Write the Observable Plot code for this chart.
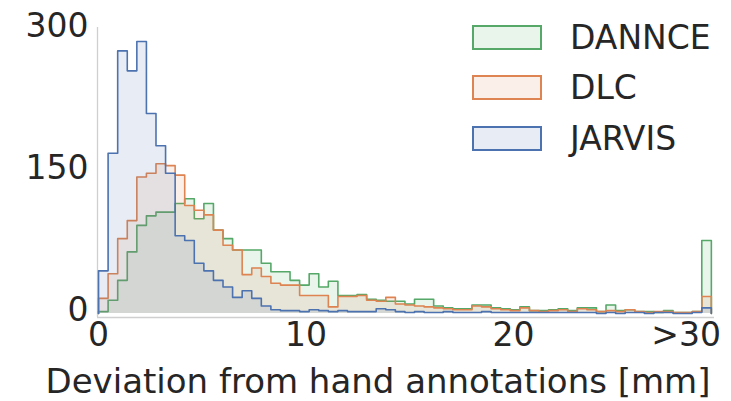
<!DOCTYPE html>
<html>
<head>
<meta charset="utf-8">
<script src="https://cdn.jsdelivr.net/npm/d3@7"></script>
<script src="https://cdn.jsdelivr.net/npm/@observablehq/plot@0.6"></script>
<style>
  html, body { margin: 0; padding: 0; background: #ffffff; }
  #wrap { position: relative; width: 731px; height: 401px; overflow: hidden; font-family: "DejaVu Sans", sans-serif; color: #262626; }
  #legend { position: absolute; left: 472px; top: 12px; }
  .row { display: flex; align-items: center; height: 50.5px; }
  .sw { width: 66px; height: 21px; border: 2px solid; box-sizing: content-box; }
  .lab { margin-left: 28px; font-size: 33px; line-height: 1; }
</style>
</head>
<body>
<div id="wrap"><div id="chart"></div><div id="legend"></div></div>
<script>
// ---- data (bins of 30/65 mm starting at 0; last bin collects everything > 30 mm)
const binWidth = 30 / 65;
const seriesNames = ["DANNCE", "DLC", "JARVIS"];
const seriesColors = ["#55a868", "#dd8452", "#4c72b0"];
const dannce = [2, 14, 35, 65, 93, 103, 107, 107, 116, 121, 100, 116, 88, 79, 67, 67,
  67, 53, 44, 44, 35, 30, 42, 28, 34, 19, 19, 20, 15, 14, 13, 13,
  10, 15, 15, 8, 6, 5, 5, 9, 9, 6, 5, 4, 7, 3, 3, 4,
  5, 3, 6, 6, 2, 9, 3, 4, 2, 2, 1, 3, 1, 1, 2, 77];
const dlc = [16, 42, 79, 98, 144, 148, 158, 156, 146, 114, 109, 104, 88, 72, 67, 41,
  48, 39, 32, 30, 30, 19, 19, 19, 7, 18, 18, 19, 14, 13, 17, 10,
  9, 8, 7, 6, 5, 4, 4, 8, 7, 5, 4, 3, 6, 3, 2, 3,
  4, 2, 5, 4, 2, 3, 2, 4, 2, 1, 2, 2, 1, 1, 2, 18];
const jarvis = [45, 169, 277, 256, 287, 211, 177, 148, 82, 77, 53, 45, 35, 28, 17, 24,
  16, 8, 4, 3, 3, 2, 4, 3, 2, 3, 2, 2, 2, 5, 4, 2,
  1, 2, 1, 1, 2, 1, 1, 1, 2, 1, 1, 1, 1, 1, 1, 1,
  1, 1, 1, 1, 0, 1, 0, 1, 1, 0, 1, 1, 0, 0, 1, 6];
const xTickValues = [0, 10, 20];
const xTickLabels = ["0", "10", "20"];
const overflowTick = 30;
const overflowLabel = ">30";
const yTickValues = [0, 150, 300];
const xLabel = "Deviation from hand annotations [mm]";

// ---- build step outlines from the bin counts
function steps(values, name) {
  const pts = [{x: 0, y: 0, s: name}];
  values.forEach((v, i) => pts.push({x: i * binWidth, y: v, s: name}));
  const end = values.length * binWidth;
  pts.push({x: end, y: values[values.length - 1], s: name});
  pts.push({x: end, y: 0, s: name});
  return pts;
}
const allSeries = [dannce, dlc, jarvis].map((vals, i) => steps(vals, seriesNames[i]));

const xDomain = [-0.05, 29.69];
const yDomain = [-4.2, 301.7];

const marks = [
  Plot.ruleX([xDomain[0]], {stroke: "#cfcfcf", strokeWidth: 1.3}),
  Plot.ruleY([yDomain[0]], {stroke: "#cfcfcf", strokeWidth: 1.3})
];
allSeries.forEach((pts, i) => {
  marks.push(Plot.areaY(pts, {x: "x", y: "y", curve: "step-after", fill: seriesColors[i], fillOpacity: 0.13}));
  marks.push(Plot.line(pts, {x: "x", y: "y", curve: "step-after", stroke: seriesColors[i], strokeWidth: 1.6}));
});
marks.push(
  Plot.axisY(yTickValues, {tickSize: 0, tickPadding: 9, fontSize: 33, label: null, dy: -3}),
  Plot.axisX(xTickValues, {tickSize: 0, tickPadding: 5, fontSize: 33, label: null,
    tickFormat: (d) => xTickLabels[xTickValues.indexOf(d)]}),
  Plot.text([overflowLabel], {x: () => overflowTick, frameAnchor: "bottom", textAnchor: "end",
    lineAnchor: "top", dy: 5, fontSize: 33, fill: "#262626"}),
  Plot.text([xLabel], {frameAnchor: "bottom", lineAnchor: "top", dy: 51, dx: -28, fontSize: 34, fill: "#262626"})
);

const chart = Plot.plot({
  width: 731,
  height: 401,
  marginLeft: 97,
  marginRight: 17,
  marginTop: 27,
  marginBottom: 84,
  x: {domain: xDomain},
  y: {domain: yDomain},
  style: {fontFamily: "DejaVu Sans", color: "#262626", background: "#ffffff", overflow: "visible"},
  marks
});
document.getElementById("chart").appendChild(chart);

// ---- legend
const legend = d3.select("#legend");
seriesNames.forEach((name, i) => {
  const row = legend.append("div").attr("class", "row");
  const c = d3.color(seriesColors[i]);
  row.append("div").attr("class", "sw")
    .style("border-color", seriesColors[i])
    .style("background", `rgba(${c.r},${c.g},${c.b},0.13)`);
  row.append("div").attr("class", "lab").text(name);
});
</script>
</body>
</html>
